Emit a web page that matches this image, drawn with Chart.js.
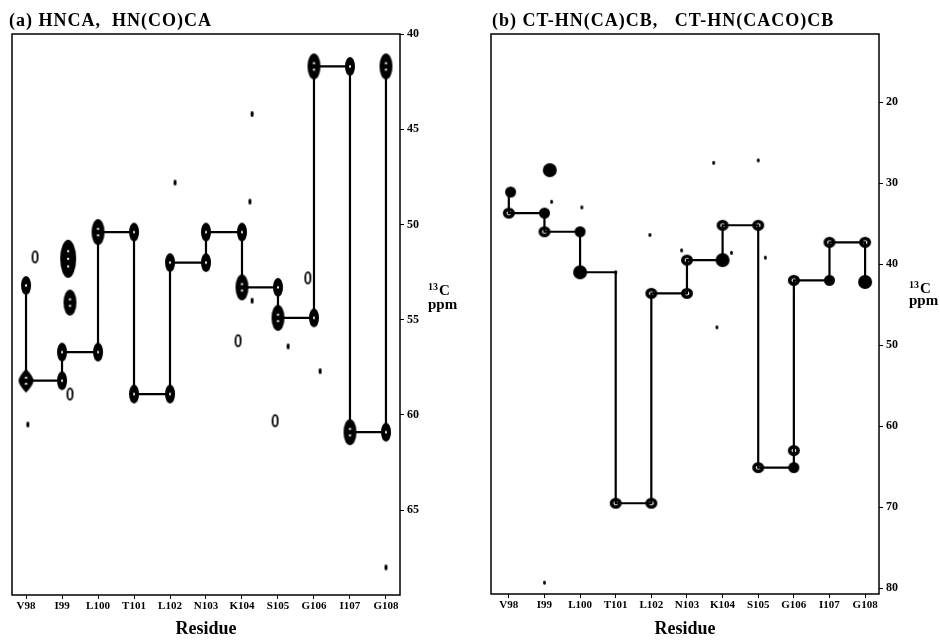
<!DOCTYPE html>
<html>
<head>
<meta charset="utf-8">
<script src="https://cdn.jsdelivr.net/npm/chart.js@4.4.1/dist/chart.umd.min.js"></script>
<style>
  html, body { margin: 0; padding: 0; background: #fff; }
  #wrap { position: relative; width: 940px; height: 643px; overflow: hidden;
          font-family: "Liberation Serif", "DejaVu Serif", serif; font-weight: bold; color: #000; }
  canvas { position: absolute; top: 0; }
  .title { position: absolute; top: 11px; font-size: 18px; line-height: 18px; letter-spacing: 1px; white-space: pre; }
  .ppm { position: absolute; font-size: 15px; line-height: 15px; white-space: pre; }
  .ppm sup { font-size: 10px; vertical-align: 0; position: relative; top: -5px; margin-right: 1px; }
</style>
</head>
<body>
<div id="wrap">
  <canvas id="chartA" width="470" height="643" style="left:0"></canvas>
  <canvas id="chartB" width="470" height="643" style="left:470px"></canvas>
  <div class="title" style="left:9px">(a) HNCA,  HN(CO)CA</div>
  <div class="title" style="left:492px">(b) CT-HN(CA)CB,   CT-HN(CACO)CB</div>
  <div class="ppm" style="left:428px;top:283px"><sup>13</sup>C</div>
  <div class="ppm" style="left:428px;top:297px">ppm</div>
  <div class="ppm" style="left:909px;top:281px"><sup>13</sup>C</div>
  <div class="ppm" style="left:909px;top:293px">ppm</div>
</div>
<script>
const residues = ['V98', 'I99', 'L100', 'T101', 'L102', 'N103', 'K104', 'S105', 'G106', 'I107', 'G108'];

// (a) HNCA / HN(CO)CA sequential walk (residue position, 13C ppm)
const walkA_pos = [0, 0, 1, 1, 2, 2, 3, 3, 4, 4, 5, 5, 6, 6, 7, 7, 8, 8, 9, 9, 10, 10];
const walkA_ppm = [53.2, 58.2, 58.2, 56.7, 56.7, 50.4, 50.4, 58.9, 58.9, 52.0, 52.0, 50.4,
                   50.4, 53.3, 53.3, 54.9, 54.9, 41.7, 41.7, 60.9, 60.9, 41.7];

// (a) cross peaks
const peaksA_pos = [0, 0, 0.25, 0.05, 1.17, 1.22, 1, 1, 1.22, 2, 2, 3, 3, 4, 4, 5, 5,
                    6, 6, 6.28, 6.28, 6.22, 5.89, 7, 7, 7.28, 6.92, 8, 7.83, 8, 8.17,
                    9, 9, 10, 10, 10, 4.14];
const peaksA_ppm = [53.2, 58.2, 51.7, 60.5, 51.8, 54.1, 56.7, 58.2, 58.9, 50.4, 56.7, 50.4, 58.9, 52.0, 58.9, 50.4, 52.0,
                    50.4, 53.3, 54.0, 44.2, 48.8, 56.1, 53.3, 54.9, 56.4, 60.3, 41.7, 52.8, 54.9, 57.7,
                    41.7, 60.9, 41.7, 60.9, 68.0, 47.8];
const peaksA_kind = ['M', 'D', 'S', 'T', 'X', 'L', 'M', 'M', 'S', 'L', 'M', 'M', 'M', 'M', 'M', 'M', 'M',
                     'M', 'L', 'T', 'T', 'T', 'S', 'M', 'L', 'T', 'S', 'L', 'S', 'M', 'T',
                     'M', 'L', 'L', 'M', 'T', 'T'];

// (b) CT-HN(CA)CB / CT-HN(CACO)CB sequential walk
const walkB_pos = [0, 0, 1, 1, 2, 2, 3, 3, 4, 4, 5, 5, 6, 6, 7, 7, 8, 8, 9, 9, 10, 10];
const walkB_ppm = [31.1, 33.7, 33.7, 36.0, 36.0, 41.0, 41.0, 69.5, 69.5, 43.6, 43.6, 39.5,
                   39.5, 35.2, 35.2, 65.1, 65.1, 42.0, 42.0, 37.3, 37.3, 42.2];

// (b) cross peaks
const peaksB_pos = [0.05, 0, 1, 1, 1.15, 2, 2, 3, 3, 4, 4, 5, 5, 6, 6, 7, 7, 8, 8, 8, 9, 9, 10, 10,
                    1.2, 2.05, 5.75, 7.0, 6.25, 7.2, 4.85, 5.84, 3.96, 1.0];
const peaksB_ppm = [31.1, 33.7, 33.7, 36.0, 28.4, 36.0, 41.0, 41.0, 69.5, 69.5, 43.6, 43.6, 39.5, 39.5, 35.2,
                    35.2, 65.1, 65.1, 42.0, 63.0, 42.0, 37.3, 37.3, 42.2,
                    32.3, 33.0, 27.5, 27.2, 38.6, 39.2, 38.3, 47.8, 36.4, 79.3];
const peaksB_kind = ['F', 'R', 'F', 'R', 'B', 'F', 'B', 'T', 'R', 'R', 'R', 'R', 'R', 'B', 'R',
                     'R', 'R', 'F', 'R', 'R', 'F', 'R', 'R', 'B',
                     'T', 'T', 'T', 'T', 'T', 'T', 'T', 'T', 'T', 'T'];

const ticksA = [40, 45, 50, 55, 60, 65];
const ticksB = [20, 30, 40, 50, 60, 70, 80];

// contour-like glyphs for the peaks
function blob(w, h, spots) {
  const c = document.createElement('canvas');
  c.width = w + 2; c.height = h + 2;
  const g = c.getContext('2d');
  g.fillStyle = '#000';
  g.beginPath();
  g.ellipse(c.width / 2, c.height / 2, w / 2, h / 2, 0, 0, Math.PI * 2);
  g.fill();
  g.fillStyle = '#fff';
  for (let i = 0; i < spots; i++) {
    const y = c.height / 2 + (i - (spots - 1) / 2) * (h / (spots + 2));
    g.fillRect(c.width / 2 - 1, y - 1, 2, 2);
  }
  return c;
}
function diamond(w, h) {
  const c = document.createElement('canvas');
  c.width = w + 2; c.height = h + 2;
  const g = c.getContext('2d');
  const cx = c.width / 2, cy = c.height / 2;
  g.fillStyle = '#000';
  g.beginPath();
  g.moveTo(cx, cy - h / 2);
  g.quadraticCurveTo(cx + w / 2, cy - h / 6, cx + w / 2, cy);
  g.quadraticCurveTo(cx + w / 2, cy + h / 6, cx, cy + h / 2);
  g.quadraticCurveTo(cx - w / 2, cy + h / 6, cx - w / 2, cy);
  g.quadraticCurveTo(cx - w / 2, cy - h / 6, cx, cy - h / 2);
  g.fill();
  g.fillStyle = '#fff';
  g.fillRect(cx - 1, cy - 4, 2, 2);
  g.fillRect(cx - 1, cy + 2, 2, 2);
  return c;
}
function ring(w, h, lw) {
  const c = document.createElement('canvas');
  c.width = w + 2; c.height = h + 2;
  const g = c.getContext('2d');
  g.strokeStyle = '#000';
  g.lineWidth = lw;
  g.beginPath();
  g.ellipse(c.width / 2, c.height / 2, (w - lw) / 2, (h - lw) / 2, 0, 0, Math.PI * 2);
  g.stroke();
  return c;
}

const glyphA = { X: blob(16, 38, 3), L: blob(13, 26, 2), M: blob(10, 19, 1), D: diamond(15, 24),
                 S: ring(7, 13, 1.8), T: blob(3, 6, 0) };
const glyphB = { B: blob(14, 14, 0), F: blob(11, 11, 0), R: ring(12, 11, 3.6), T: blob(3, 4, 0) };

// full box round the plot area
const frame = {
  id: 'frame',
  afterDatasetsDraw(chart) {
    const a = chart.chartArea, ctx = chart.ctx;
    ctx.save();
    ctx.strokeStyle = '#000';
    ctx.lineWidth = 1.5;
    ctx.strokeRect(a.left, a.top, a.right - a.left, a.bottom - a.top);
    ctx.restore();
  }
};

function makeChart(id, o) {
  return new Chart(document.getElementById(id), {
    type: 'scatter',
    data: {
      datasets: [
        {
          data: o.peakPos.map((x, i) => ({ x, y: o.peakPpm[i] })),
          pointStyle: o.peakKind.map(k => o.glyphs[k]),
          pointRadius: 3,
          showLine: false
        },
        {
          data: o.walkPos.map((x, i) => ({ x, y: o.walkPpm[i] })),
          showLine: true,
          borderColor: '#000',
          borderWidth: 2.2,
          pointRadius: 0,
          tension: 0
        }
      ]
    },
    options: {
      responsive: false,
      animation: false,
      layout: { padding: { left: o.padLeft, top: 34, right: 0, bottom: 0 } },
      plugins: { legend: { display: false }, tooltip: { enabled: false } },
      scales: {
        x: {
          type: 'linear',
          min: o.xMin, max: o.xMax,
          afterBuildTicks: s => { s.ticks = residues.map((r, i) => ({ value: i })); },
          afterFit: s => { s.height = o.xHeight; },
          border: { display: false },
          grid: { drawOnChartArea: false, drawTicks: true, tickLength: 4, color: '#000', lineWidth: 1 },
          ticks: {
            autoSkip: false, maxRotation: 0, padding: 1, color: '#000',
            font: { family: 'Liberation Serif', weight: 'bold', size: 11 },
            callback: v => residues[v]
          },
          title: {
            display: true, text: 'Residue', color: '#000',
            font: { family: 'Liberation Serif', weight: 'bold', size: 18 },
            padding: { top: 0, bottom: 3 }
          }
        },
        y: {
          type: 'linear',
          position: 'right',
          reverse: true,
          min: o.yMin, max: o.yMax,
          afterBuildTicks: s => { s.ticks = o.yTicks.map(v => ({ value: v })); },
          afterFit: s => { s.width = o.yWidth; },
          border: { display: false },
          grid: { drawOnChartArea: false, drawTicks: true, tickLength: 4, color: '#000', lineWidth: 1 },
          ticks: {
            padding: 3, color: '#000',
            font: { family: 'Liberation Serif', weight: 'bold', size: 12 }
          }
        }
      }
    },
    plugins: [frame]
  });
}

makeChart('chartA', {
  peakPos: peaksA_pos, peakPpm: peaksA_ppm, peakKind: peaksA_kind, glyphs: glyphA,
  walkPos: walkA_pos, walkPpm: walkA_ppm,
  xMin: -0.39, xMax: 10.39, yMin: 40, yMax: 69.45, yTicks: ticksA,
  padLeft: 12, yWidth: 70, xHeight: 48
});

makeChart('chartB', {
  peakPos: peaksB_pos, peakPpm: peaksB_ppm, peakKind: peaksB_kind, glyphs: glyphB,
  walkPos: walkB_pos, walkPpm: walkB_ppm,
  xMin: -0.5, xMax: 10.39, yMin: 11.6, yMax: 80.7, yTicks: ticksB,
  padLeft: 21, yWidth: 61, xHeight: 49
});
</script>
</body>
</html>
